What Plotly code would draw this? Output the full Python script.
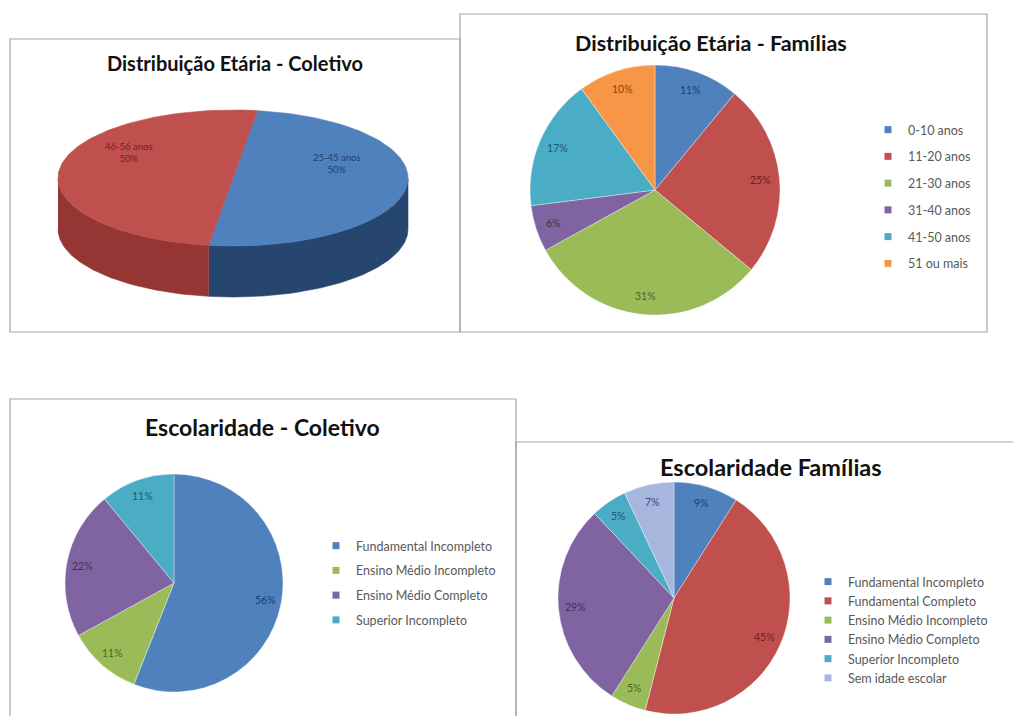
import math
import numpy as np
import plotly.graph_objects as go

W, H = 1013, 716

# ---- data -----------------------------------------------------------------
col_age_labels = ["25-45 anos", "46-56 anos"]
col_age_values = [50, 50]

fam_age_labels = ["0-10 anos", "11-20 anos", "21-30 anos", "31-40 anos",
                  "41-50 anos", "51 ou mais"]
fam_age_values = [11, 25, 31, 6, 17, 10]

col_edu_labels = ["Fundamental Incompleto", "Ensino Médio Incompleto",
                  "Ensino Médio Completo", "Superior Incompleto"]
col_edu_values = [56, 11, 22, 11]

fam_edu_labels = ["Fundamental Incompleto", "Fundamental Completo",
                  "Ensino Médio Incompleto", "Ensino Médio Completo",
                  "Superior Incompleto", "Sem idade escolar"]
fam_edu_values = [9, 45, 5, 29, 5, 7]

titles = ["Distribuição Etária - Coletivo", "Distribuição Etária - Famílias",
          "Escolaridade - Coletivo", "Escolaridade Famílias"]

# ---- palette (fill, label text) -------------------------------------------
BLUE, RED, GREEN, PURPLE, AQUA, ORANGE, LAV = (
    "#4F81BD", "#C0504D", "#9BBB59", "#8064A2", "#4BACC6", "#F79646", "#A7B6DD")
DARK = {BLUE: "#1F3D6B", RED: "#6E211F", GREEN: "#4F6228", PURPLE: "#3F3151",
        AQUA: "#1F5A6A", ORANGE: "#87430C", LAV: "#3B4A7A"}

fam_age_colors = [BLUE, RED, GREEN, PURPLE, AQUA, ORANGE]
col_edu_colors = [BLUE, GREEN, PURPLE, AQUA]
fam_edu_colors = [BLUE, RED, GREEN, PURPLE, AQUA, LAV]

FONT = "Lato"
fig = go.Figure()

# ---- 3-D style pie drawn on pixel axes -------------------------------------
cx1, cy1, rx1, ry1, depth1 = 233, 178, 175, 68, 51
start_deg = 82.0               # first slice starts here and runs clockwise
top_cols = [BLUE, RED]
side_cols = ["#26456F", "#963634"]


def ell(theta_deg, dy=0.0):
    t = np.radians(theta_deg)
    return cx1 + rx1 * np.cos(t), cy1 - ry1 * np.sin(t) + dy


total = sum(col_age_values)
a1 = start_deg
slices = []
for lab, v, tc, sc in zip(col_age_labels, col_age_values, top_cols, side_cols):
    a2 = a1 - 360.0 * v / total
    slices.append((lab, v, a1, a2, tc, sc))
    a1 = a2

# side walls (front half of the rim: -180..0 degrees, mod 360)
for lab, v, a1, a2, tc, sc in slices:
    for k in (-1, 0, 1):
        lo = max(a2, -180 + 360 * k)
        hi = min(a1, 0 + 360 * k)
        if hi - lo <= 0.01:
            continue
        th = np.linspace(lo, hi, 80)
        xt, yt = ell(th)
        xb, yb = ell(th[::-1], depth1)
        fig.add_trace(go.Scatter(
            x=np.concatenate([xt, xb]), y=np.concatenate([yt, yb]),
            fill="toself", fillcolor=sc, mode="lines",
            line=dict(width=0.6, color=sc), hoverinfo="skip",
            showlegend=False))

# top face sectors + labels
for lab, v, a1, a2, tc, sc in slices:
    th = np.linspace(a1, a2, 120)
    xs, ys = ell(th)
    fig.add_trace(go.Scatter(
        x=np.concatenate([[cx1], xs, [cx1]]), y=np.concatenate([[cy1], ys, [cy1]]),
        fill="toself", fillcolor=tc, mode="lines",
        line=dict(width=0.6, color=tc), name=lab,
        hovertemplate=f"{lab}: {v}%<extra></extra>", showlegend=False))
    mid = np.radians((a1 + a2) / 2)
    lx = cx1 + 0.6 * rx1 * math.cos(mid)
    ly = cy1 - 0.6 * ry1 * math.sin(mid) - 20
    fig.add_annotation(x=lx, y=ly, xref="x", yref="y", showarrow=False,
                       text=f"{lab}<br>{v}%", align="center",
                       font=dict(family=FONT, size=9.5, color=DARK[tc]))


# ---- flat pies ---------------------------------------------------------------
def pie_panel(labels, values, colors, cx, cy, r, legend_id):
    dom_x = [(cx - r) / W, (cx + r) / W]
    dom_y = [1 - (cy + r) / H, 1 - (cy - r) / H]
    fig.add_trace(go.Pie(
        labels=labels, values=values, sort=False, direction="clockwise",
        rotation=0, textinfo="none", showlegend=False,
        marker=dict(colors=colors, line=dict(color="rgba(255,255,255,0.6)", width=0.6)),
        domain=dict(x=dom_x, y=dom_y),
        hovertemplate="%{label}: %{value}%<extra></extra>"))
    tot = sum(values)
    cum = 0.0
    for lab, v, c in zip(labels, values, colors):
        fmid = (cum + v / 2) / tot
        cum += v
        a = 2 * math.pi * fmid
        fig.add_annotation(x=cx + 0.85 * r * math.sin(a),
                           y=cy - 0.85 * r * math.cos(a),
                           xref="x", yref="y", showarrow=False, text=f"{v}%",
                           font=dict(family=FONT, size=10.5, color=DARK[c]))
    # legend entries
    for i, (lab, c) in enumerate(zip(labels, colors)):
        fig.add_trace(go.Scatter(
            x=[None], y=[None], mode="markers", name=lab,
            marker=dict(symbol="square", size=7, color=c),
            legend=legend_id, legendgroup=f"{legend_id}_{i}", showlegend=True))


pie_panel(fam_age_labels, fam_age_values, fam_age_colors, 655, 190, 125, "legend")
pie_panel(col_edu_labels, col_edu_values, col_edu_colors, 174, 583, 109, "legend2")
pie_panel(fam_edu_labels, fam_edu_values, fam_edu_colors, 674, 598, 116, "legend3")

# ---- titles ------------------------------------------------------------------
for t, (tx, ty, ts) in zip(titles, [(235, 63, 20), (711, 43, 21.5),
                                     (262, 427, 23), (771, 467, 23.5)]):
    fig.add_annotation(x=tx, y=ty, xref="x", yref="y", showarrow=False, text=f"<b>{t}</b>",
                       font=dict(family=FONT, size=ts, color="#111111"))

# ---- panel frames --------------------------------------------------------------
frame = dict(color="#A6A6A6", width=1.2)
for x0, y0, x1, y1 in [(10, 39, 460, 332), (460, 14, 987, 332),
                       (10, 399, 516, 740), (516, 442, 1030, 740)]:
    fig.add_shape(type="rect", x0=x0, y0=y0, x1=x1, y1=y1, xref="x", yref="y",
                  line=frame, fillcolor="rgba(0,0,0,0)", layer="below")

leg_common = dict(xanchor="left", yanchor="top", bgcolor="rgba(0,0,0,0)",
                  traceorder="grouped", itemwidth=30, itemclick=False,
                  font=dict(family=FONT, size=12.5, color="#595959"))

fig.update_layout(
    width=W, height=H, margin=dict(l=0, r=0, t=0, b=0),
    paper_bgcolor="white", plot_bgcolor="white",
    xaxis=dict(range=[0, W], visible=False, fixedrange=True, domain=[0, 1]),
    yaxis=dict(range=[H, 0], visible=False, fixedrange=True, domain=[0, 1]),
    legend=dict(x=868 / W, y=1 - 115 / H, tracegroupgap=7.5, **leg_common),
    legend2=dict(x=316 / W, y=1 - 531 / H, tracegroupgap=5.5, **leg_common),
    legend3=dict(x=808 / W, y=1 - 567 / H, tracegroupgap=0, **leg_common),
    showlegend=True,
)

fig.write_html("out.html")
